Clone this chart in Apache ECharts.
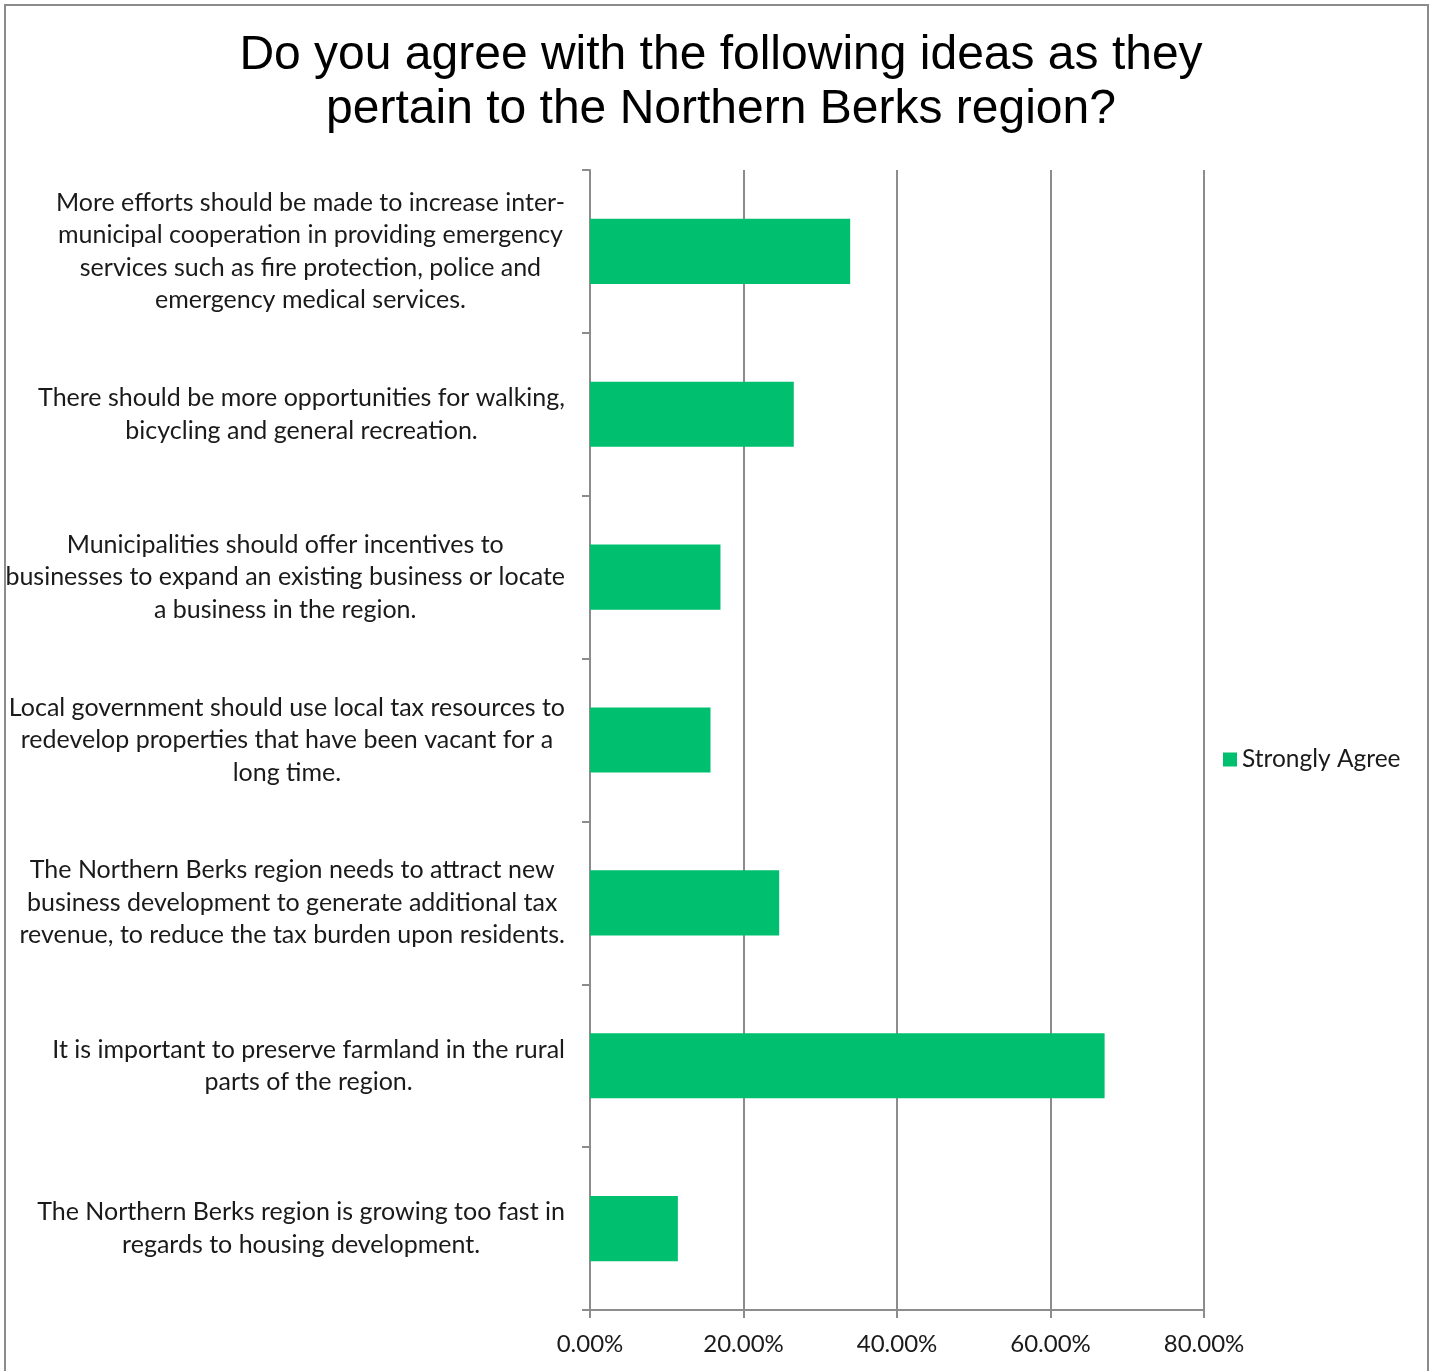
<!DOCTYPE html>
<html>
<head>
<meta charset="utf-8">
<title>Northern Berks region survey</title>
<script src="https://cdn.jsdelivr.net/npm/echarts@6/dist/echarts.min.js"></script>
<style>
  html, body { margin: 0; padding: 0; background: #ffffff; }
  #chart { width: 1433px; height: 1371px; }
</style>
</head>
<body>
<div id="chart"></div>
<script>
// Survey statements (top to bottom), line breaks as laid out in the axis labels
const statements = [
  'More efforts should be made to increase inter-\nmunicipal cooperation in providing emergency\nservices such as fire protection, police and\nemergency medical services.',
  'There should be more opportunities for walking,\nbicycling and general recreation.',
  'Municipalities should offer incentives to\nbusinesses to expand an existing business or locate\na business in the region.',
  'Local government should use local tax resources to\nredevelop properties that have been vacant for a\nlong time.',
  'The Northern Berks region needs to attract new\nbusiness development to generate additional tax\nrevenue, to reduce the tax burden upon residents.',
  'It is important to preserve farmland in the rural\nparts of the region.',
  'The Northern Berks region is growing too fast in\nregards to housing development.'
];

// Share of respondents answering "Strongly Agree" (percent)
const stronglyAgree = [33.9, 26.55, 17.0, 15.7, 24.65, 67.05, 11.45];

// Value axis ticks (percent)
const axisMin = 0;
const axisMax = 80;
const axisStep = 20;

const seriesName = 'Strongly Agree';
const chartTitle = 'Do you agree with the following ideas as they\npertain to the Northern Berks region?';

const green = '#00bf6f';
const gridGray = '#8c8c8c';
const labelFont = 'Lato, "Open Sans", sans-serif';

const chart = echarts.init(document.getElementById('chart'), null, { renderer: 'canvas' });

chart.setOption({
  backgroundColor: '#ffffff',
  animation: false,
  title: {
    text: chartTitle,
    left: 716,
    top: 24,
    textAlign: 'center',
    textStyle: {
      fontFamily: '"Liberation Sans", Arial, sans-serif',
      fontSize: 48,
      fontWeight: 'normal',
      lineHeight: 54,
      color: '#000000'
    }
  },
  graphic: [{
    type: 'rect',
    silent: true,
    shape: { x: 5, y: 5, width: 1423, height: 1420 },
    style: { fill: 'none', stroke: gridGray, lineWidth: 2 }
  }],
  legend: {
    data: [seriesName],
    left: 1218,
    top: 742,
    orient: 'vertical',
    icon: 'rect',
    itemWidth: 14,
    itemHeight: 14,
    itemGap: 6,
    textStyle: {
      fontFamily: labelFont,
      fontSize: 24.5,
      color: '#1a1a1a'
    }
  },
  grid: {
    left: 590,
    right: 229,
    top: 170,
    bottom: 61,
    containLabel: false
  },
  xAxis: {
    type: 'value',
    min: axisMin,
    max: axisMax,
    interval: axisStep,
    axisLine: { show: true, lineStyle: { color: gridGray, width: 2 } },
    axisTick: { show: true, length: 8, lineStyle: { color: gridGray, width: 2 } },
    splitLine: { show: true, lineStyle: { color: gridGray, width: 2 } },
    axisLabel: {
      margin: 22,
      fontFamily: labelFont,
      fontSize: 24,
      color: '#1a1a1a',
      formatter: v => v.toFixed(2) + '%'
    }
  },
  yAxis: {
    type: 'category',
    inverse: true,
    data: statements,
    axisLine: { show: true, lineStyle: { color: gridGray, width: 2 } },
    axisTick: { show: true, length: 8, alignWithLabel: false, lineStyle: { color: gridGray, width: 2 } },
    splitLine: { show: false },
    axisLabel: {
      margin: 25,
      align: 'right',
      interval: 0,
      formatter: v => v.split('\n').map(line => '{c|' + line + '}').join('\n'),
      rich: {
        c: {
          align: 'center',
          fontFamily: labelFont,
          fontSize: 25,
          lineHeight: 32.5,
          color: '#1a1a1a'
        }
      }
    }
  },
  series: [{
    name: seriesName,
    type: 'bar',
    data: stronglyAgree,
    barCategoryGap: '60%',
    itemStyle: { color: green },
    emphasis: { disabled: true }
  }]
});
</script>
</body>
</html>
